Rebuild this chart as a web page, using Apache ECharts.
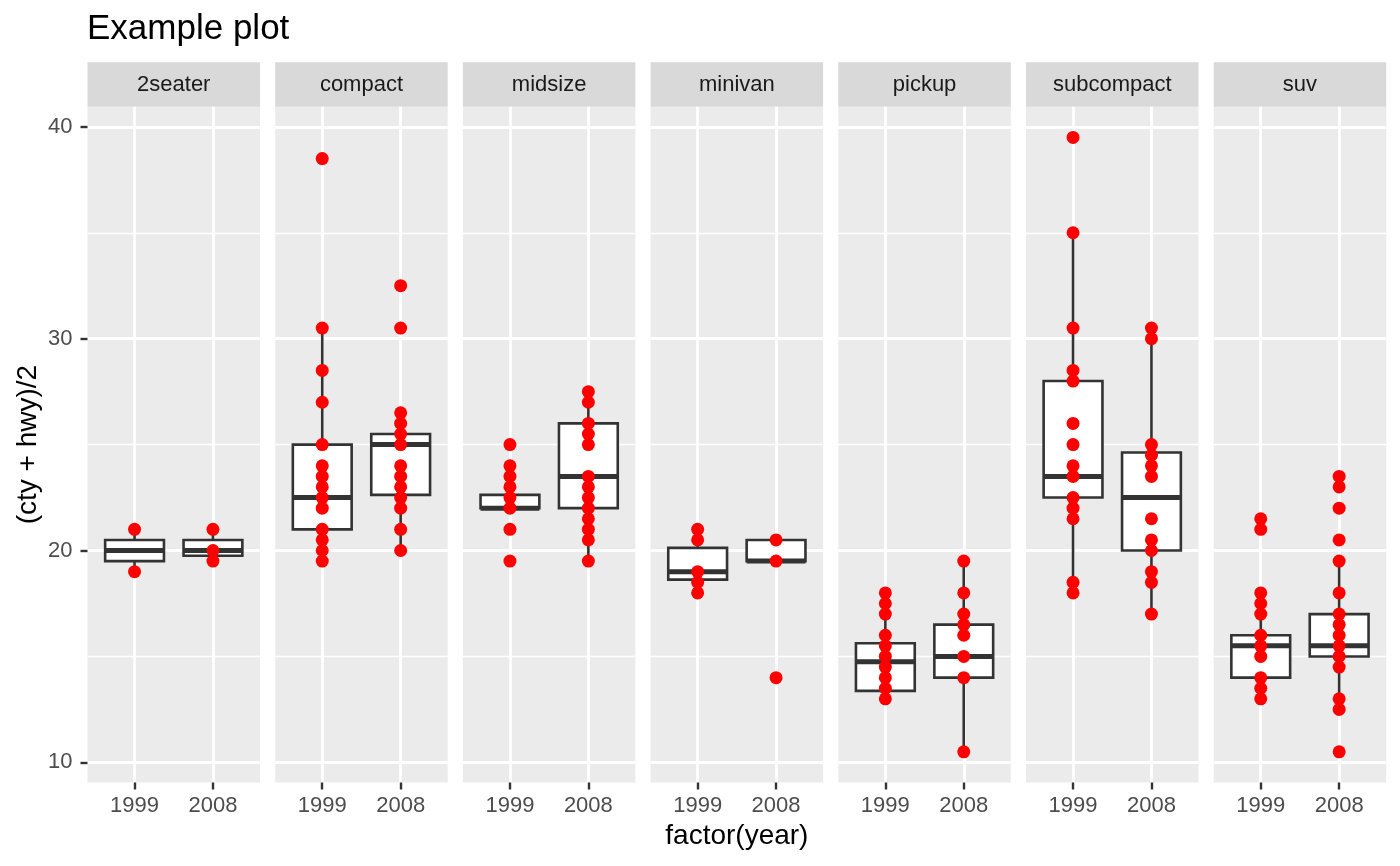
<!DOCTYPE html>
<html>
<head>
<meta charset="utf-8">
<title>Example plot</title>
<script src="https://cdn.jsdelivr.net/npm/echarts@6/dist/echarts.min.js"></script>
<style>
  html, body { margin: 0; padding: 0; background: #fff; }
  #main { width: 1400px; height: 866px; }
</style>
</head>
<body>
<div id="main"></div>
<script>
// facets and x categories
const classes = ['2seater', 'compact', 'midsize', 'minivan', 'pickup', 'subcompact', 'suv'];
const years = ['1999', '2008'];
const yTicks = [10, 20, 30, 40];
const yMinor = [15, 25, 35];

// (cty + hwy)/2 points, one list per class
const pts1999 = [
  [21, 19],
  [38.5, 30.5, 28.5, 27, 25, 24, 23.5, 23, 22.5, 22, 21, 20.5, 20, 19.5],
  [25, 24, 23.5, 23, 22.5, 22, 21, 19.5],
  [21, 20.5, 19, 18.5, 18],
  [18, 17.5, 17, 16, 15.5, 15, 14.5, 14, 13.5, 13],
  [39.5, 35, 30.5, 28.5, 28, 26, 25, 24, 23.5, 22.5, 22, 21.5, 18.5, 18],
  [21.5, 21, 18, 17.5, 17, 16, 15.5, 15, 14, 13.5, 13]
];
const pts2008 = [
  [21, 20, 19.5],
  [32.5, 30.5, 26.5, 26, 25.5, 25, 24, 23.5, 23, 22.5, 22, 21, 20],
  [27.5, 27, 26, 25.5, 25, 23.5, 23, 22.5, 22, 21.5, 21, 20.5, 19.5],
  [20.5, 19.5, 14],
  [19.5, 18, 17, 16.5, 16, 15, 14, 10.5],
  [30.5, 30, 25, 24.5, 24, 23.5, 21.5, 20.5, 20, 19, 18.5, 17],
  [23.5, 23, 22, 20.5, 19.5, 18, 17, 16.5, 16, 15.5, 15, 14.5, 13, 12.5, 10.5]
];

// box stats: [lower whisker, q1, median, q3, upper whisker]
const box1999 = [
  [19, 19.5, 20, 20.5, 21],
  [19.5, 21, 22.5, 25, 30.5],
  [22, 22, 22, 22.625, 23.5],
  [18, 18.625, 19, 20.125, 21],
  [13, 13.375, 14.75, 15.625, 18],
  [18, 22.5, 23.5, 28, 35],
  [13, 14, 15.5, 16, 18]
];
const box2008 = [
  [19.5, 19.75, 20, 20.5, 21],
  [20, 22.625, 25, 25.5, 26.5],
  [19.5, 22, 23.5, 26, 27.5],
  [19.5, 19.5, 19.5, 20.5, 20.5],
  [10.5, 14, 15, 16.5, 19.5],
  [17, 20, 22.5, 24.625, 30.5],
  [12.5, 15, 15.5, 17, 19.5]
];

// layout
const LEFT0 = 87.5, STEP = 187.7, PW = 172.5, PT = 106.7, PH = 675.8;
const STRIP_H = 44.4;
const YMIN = 9.05, YMAX = 40.95;
const BOX_W = 0.75;
const FONT = '"Liberation Sans", Arial, sans-serif';

const chart = echarts.init(document.getElementById('main'), null, { renderer: 'canvas' });

function renderBox(params, api) {
  const x = api.value(0);
  const half = api.size([BOX_W, 0])[0] / 2;
  const mid = api.coord([x, api.value(3)]);
  const lo = api.coord([x, api.value(1)])[1];
  const q1 = api.coord([x, api.value(2)])[1];
  const q3 = api.coord([x, api.value(4)])[1];
  const hi = api.coord([x, api.value(5)])[1];
  const st = { stroke: '#333333', lineWidth: 2.6 };
  return {
    type: 'group',
    children: [
      { type: 'line', shape: { x1: mid[0], y1: lo, x2: mid[0], y2: q1 }, style: st },
      { type: 'line', shape: { x1: mid[0], y1: q3, x2: mid[0], y2: hi }, style: st },
      { type: 'rect', shape: { x: mid[0] - half, y: q3, width: half * 2, height: q1 - q3 },
        style: { fill: '#ffffff', stroke: '#333333', lineWidth: 2.6 } },
      { type: 'line', shape: { x1: mid[0] - half, y1: mid[1], x2: mid[0] + half, y2: mid[1] },
        style: { stroke: '#333333', lineWidth: 5 } }
    ]
  };
}

const grid = [], xAxis = [], yAxis = [], series = [], graphic = [];

classes.forEach(function (name, i) {
  const left = LEFT0 + i * STEP;
  grid.push({
    left: left, top: PT, width: PW, height: PH,
    show: true, backgroundColor: '#EBEBEB', borderWidth: 0
  });
  xAxis.push({
    type: 'value', gridIndex: i, min: 0.4, max: 2.6,
    axisLine: { show: false },
    axisTick: { show: true, customValues: [1, 2], length: 7, lineStyle: { color: '#333333', width: 2.4 } },
    axisLabel: {
      customValues: [1, 2], margin: 12, color: '#4D4D4D', fontSize: 22, fontFamily: FONT,
      formatter: function (v) { return years[Math.round(v) - 1]; }
    },
    splitLine: { show: true, lineStyle: { color: '#ffffff', width: 2.8 } }
  });
  // major y lines
  yAxis.push({
    type: 'value', gridIndex: i, min: YMIN, max: YMAX,
    name: i === 0 ? '(cty + hwy)/2' : '',
    nameLocation: 'middle', nameGap: 45, nameRotate: 90,
    nameTextStyle: { color: '#000000', fontSize: 28, fontFamily: FONT },
    axisLine: { show: false },
    axisTick: { show: i === 0, customValues: yTicks, length: 7, lineStyle: { color: '#333333', width: 2.4 } },
    axisLabel: { show: i === 0, customValues: yTicks, margin: 15, color: '#4D4D4D', fontSize: 22, fontFamily: FONT },
    splitLine: { show: true, lineStyle: { color: '#ffffff', width: 2.8 } }
  });
  // minor y lines
  yAxis.push({
    type: 'value', gridIndex: i, min: YMIN, max: YMAX,
    axisLine: { show: false },
    axisTick: { show: false, customValues: yMinor },
    axisLabel: { show: false, customValues: yMinor },
    splitLine: { show: true, lineStyle: { color: '#ffffff', width: 1.4 } }
  });

  series.push({
    type: 'custom', xAxisIndex: i, yAxisIndex: 2 * i,
    renderItem: renderBox,
    encode: { x: 0, y: [1, 2, 3, 4, 5] },
    data: [[1].concat(box1999[i]), [2].concat(box2008[i])],
    z: 2, silent: true
  });
  series.push({
    type: 'scatter', xAxisIndex: i, yAxisIndex: 2 * i,
    symbolSize: 13,
    itemStyle: { color: '#FF0000', opacity: 1 },
    data: pts1999[i].map(function (v) { return [1, v]; })
      .concat(pts2008[i].map(function (v) { return [2, v]; })),
    z: 3
  });

  // facet strip
  graphic.push({
    type: 'group', left: left, top: PT - STRIP_H,
    children: [
      { type: 'rect', shape: { x: 0, y: 0, width: PW, height: STRIP_H }, style: { fill: '#D9D9D9' } },
      { type: 'text', x: PW / 2, y: STRIP_H / 2,
        style: { text: name, fill: '#1A1A1A', font: '22px ' + FONT, textAlign: 'center', textVerticalAlign: 'middle' } }
    ]
  });
});

// x axis title
graphic.push({
  type: 'text', x: LEFT0 + (6 * STEP + PW) / 2, y: 836,
  style: { text: 'factor(year)', fill: '#000000', font: '28px ' + FONT, textAlign: 'center', textVerticalAlign: 'middle' }
});

const option = {
  backgroundColor: '#ffffff',
  animation: false,
  title: {
    text: 'Example plot', left: 87, top: 12, padding: 0,
    textStyle: { color: '#000000', fontSize: 35, fontWeight: 'normal', fontFamily: FONT }
  },
  grid: grid,
  xAxis: xAxis,
  yAxis: yAxis,
  series: series,
  graphic: graphic
};

chart.setOption(option);
</script>
</body>
</html>
